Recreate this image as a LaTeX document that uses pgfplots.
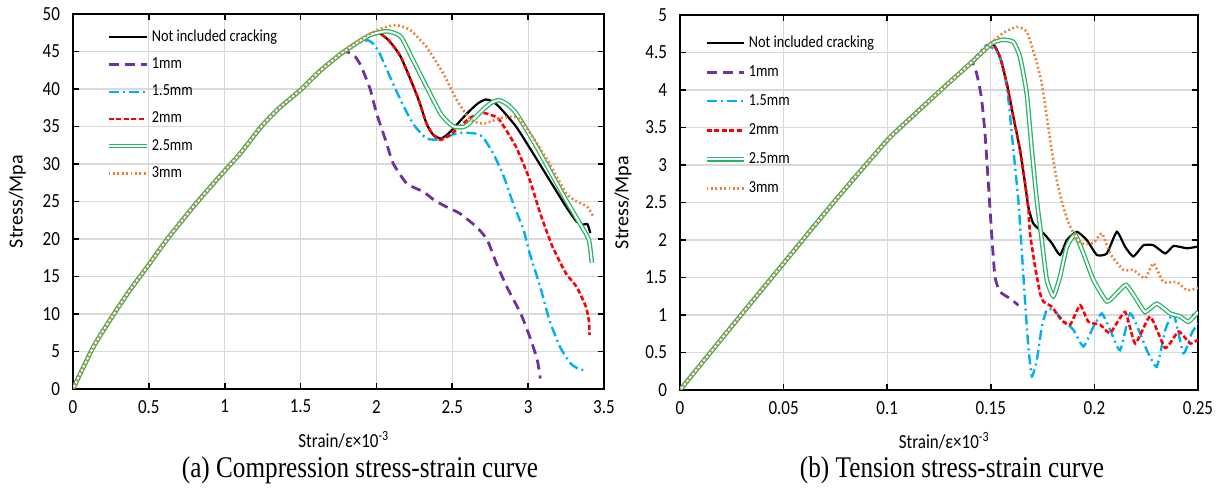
\documentclass[border=0pt]{standalone}
\usepackage{pgfplots}
\pgfplotsset{compat=1.18}
\usepackage{fontspec}
\setmainfont{Carlito}[FakeStretch=0.85]
\newfontfamily\ylabfont{Carlito}
\newfontfamily\capfont{Liberation Serif}[FakeStretch=0.84]
\definecolor{cpurple}{RGB}{112,48,160}
\definecolor{ccyan}{RGB}{0,176,240}
\definecolor{cred}{RGB}{255,0,0}
\definecolor{cgreen}{RGB}{40,180,100}
\definecolor{corange}{RGB}{237,125,49}
\definecolor{cgrid}{RGB}{217,217,217}
\pgfplotsset{
  mystyle/.style={
    scale only axis, height=187.5pt, anchor=south west,
    axis line style={line width=1.4pt},
    tick align=inside, major tick length=3pt,
    tick style={black, line width=0.8pt},
    grid=major, major grid style={cgrid, line width=0.6pt},
    tick label style={font=\fontsize{10}{12}\selectfont},
    /pgf/number format/assume math mode=true,
    yticklabel style={xshift=-3pt},
    xticklabel style={yshift=-2pt},
    label style={font=\fontsize{10}{12}\selectfont},
    legend cell align=left,
    legend image code/.code={\draw[##1] (0pt,0pt) -- (19pt,0pt);},
    legend style={draw=none, fill=none, anchor=north west, inner sep=0pt,
      font=\fontsize{8.4}{9}\selectfont, row sep=5.6pt,
      nodes={inner sep=0pt, text height=6pt, text depth=2pt},
      /tikz/every odd column/.append style={column sep=1.5pt}},
  },
  sblack/.style={black, line width=1.1pt},
  spurple/.style={cpurple, line width=1.4pt, dash pattern=on 5pt off 3pt},
  scyan/.style={ccyan, line width=1.2pt, dash pattern=on 5pt off 2pt on 1pt off 2pt},
  sred/.style={cred, line width=1.3pt, dash pattern=on 2.5pt off 1.3pt},
  sgreen/.style={cgreen, line width=0.65pt, double=white, double distance=1.0pt},
  sorange/.style={corange, line width=1.3pt, dash pattern=on 0.9pt off 1.3pt},
}
\begin{document}
\begin{tikzpicture}
\path[use as bounding box] (0,0) rectangle (615pt,245.5pt);
% ---------------- (a) compression ----------------
\begin{axis}[mystyle, at={(36.5pt,51pt)}, width=265.5pt,
  xmin=0, xmax=3.5, ymin=0, ymax=50,
  xtick={0,0.5,...,3.5}, ytick={0,5,...,50},
  xlabel={Strain/ε×10\textsuperscript{-3}},
  ylabel={\ylabfont Stress/Mpa},
  xlabel style={at={(axis description cs:0.51,0)}, anchor=center, yshift=-25.5pt},
  ylabel style={at={(axis description cs:-0.105,0.5)}, anchor=center, rotate=0},
  legend style={at={(rel axis cs:0.062,0.96)}},
  every axis plot/.append style={smooth, tension=0.35},
]
\addplot[sblack] table {
0 0
0.134 5.6
0.266 9.9
0.376 13.2
0.497 16.5
0.618 19.9
0.793 24.3
0.947 27.9
1.11 31.6
1.233 34.8
1.35 37.3
1.496 39.8
1.628 42.4
1.76 44.6
1.89 46.4
1.96 47.1
2.02 47.4
2.08 46.5
2.16 44.3
2.27 39.0
2.33 35.4
2.37 34.0
2.42 33.4
2.46 33.8
2.51 34.8
2.60 36.8
2.67 38.1
2.72 38.6
2.76 38.4
2.81 37.6
2.92 35.0
3.03 31.5
3.14 27.9
3.25 24.3
3.32 22.3
3.36 21.9
3.39 22.0
3.41 20.8
};
\addlegendentry{Not included cracking}
\addplot[spurple] table {
0 0
0.134 5.6
0.266 9.9
0.376 13.2
0.497 16.5
0.618 19.9
0.793 24.3
0.947 27.9
1.11 31.6
1.233 34.8
1.35 37.3
1.496 39.8
1.628 42.4
1.76 44.6
1.80 45.0
1.86 44.3
1.90 43.0
1.96 39.9
2.00 36.8
2.06 33.2
2.11 30.1
2.20 27.4
2.31 26.3
2.38 25.2
2.46 24.3
2.55 23.4
2.66 21.6
2.73 19.9
2.79 16.8
2.86 13.6
2.95 10.1
3.01 7.0
3.06 3.9
3.08 1.4
};
\addlegendentry{1mm}
\addplot[scyan] table {
0 0
0.134 5.6
0.266 9.9
0.376 13.2
0.497 16.5
0.618 19.9
0.793 24.3
0.947 27.9
1.11 31.6
1.233 34.8
1.35 37.3
1.496 39.8
1.628 42.4
1.76 44.6
1.85 45.9
1.94 46.5
1.98 46.0
2.02 44.8
2.09 41.6
2.16 38.5
2.24 35.4
2.33 33.4
2.42 33.3
2.53 34.1
2.64 34.1
2.70 33.6
2.77 31.4
2.84 28.3
2.90 24.8
2.97 21.2
3.01 18.1
3.08 13.6
3.14 9.2
3.21 5.6
3.28 3.4
3.34 2.6
3.38 2.6
};
\addlegendentry{1.5mm}
\addplot[sred] table {
0 0
0.134 5.6
0.266 9.9
0.376 13.2
0.497 16.5
0.618 19.9
0.793 24.3
0.947 27.9
1.11 31.6
1.233 34.8
1.35 37.3
1.496 39.8
1.628 42.4
1.76 44.6
1.89 46.4
1.96 47.1
2.02 47.4
2.08 46.5
2.16 44.3
2.27 39.0
2.33 35.4
2.37 34.0
2.42 33.2
2.48 33.8
2.55 35.0
2.62 36.2
2.70 36.8
2.76 36.5
2.81 35.9
2.92 32.3
3.01 27.9
3.08 23.4
3.16 19.0
3.25 15.4
3.32 13.6
3.38 11.0
3.40 9.2
3.405 7.2
};
\addlegendentry{2mm}
\addplot[sgreen] table {
0 0
0.134 5.6
0.266 9.9
0.376 13.2
0.497 16.5
0.618 19.9
0.793 24.3
0.947 27.9
1.11 31.6
1.233 34.8
1.35 37.3
1.496 39.8
1.628 42.4
1.76 44.6
1.89 46.4
1.97 47.3
2.07 47.7
2.16 47.0
2.24 43.9
2.33 40.3
2.42 36.8
2.47 35.6
2.51 35.0
2.56 34.9
2.60 35.2
2.70 37.2
2.76 38.2
2.81 38.5
2.86 38.0
2.92 36.8
3.03 33.2
3.14 29.2
3.25 25.2
3.34 22.1
3.40 19.9
3.42 16.8
};
\addlegendentry{2.5mm}
\addplot[sorange] table {
0 0
0.134 5.6
0.266 9.9
0.376 13.2
0.497 16.5
0.618 19.9
0.793 24.3
0.947 27.9
1.11 31.6
1.233 34.8
1.35 37.3
1.496 39.8
1.628 42.4
1.76 44.6
1.89 46.5
1.98 47.6
2.05 48.2
2.13 48.5
2.22 47.9
2.33 45.6
2.44 42.1
2.53 38.5
2.62 35.9
2.70 35.4
2.76 35.7
2.81 36.1
2.92 36.3
2.97 35.3
3.03 33.6
3.14 30.1
3.25 26.1
3.32 25.0
3.39 24.3
3.43 23.0
};
\addlegendentry{3mm}
\end{axis}
% ---------------- (b) tension ----------------
\begin{axis}[mystyle, at={(340pt,50.5pt)}, width=259pt,
  xmin=0, xmax=0.25, ymin=0, ymax=5,
  xtick={0,0.05,0.1,0.15,0.2,0.25}, ytick={0,0.5,...,5},
  scaled x ticks=false, scaled y ticks=false,
  xticklabel style={/pgf/number format/fixed, /pgf/number format/precision=2},
  yticklabel style={/pgf/number format/fixed, /pgf/number format/precision=1},
  xlabel={Strain/ε×10\textsuperscript{-3}},
  ylabel={\ylabfont Stress/Mpa},
  xlabel style={at={(axis description cs:0.51,0)}, anchor=center, yshift=-25.5pt},
  ylabel style={at={(axis description cs:-0.11,0.5)}, anchor=center, rotate=0},
  legend style={at={(rel axis cs:0.046,0.947)}, row sep=6.5pt},
  legend image code/.code={\draw[#1] (0pt,0pt) -- (18.5pt,0pt);},
  every axis plot/.append style={smooth, tension=0.3},
]
\addplot[sblack] table {
0 0
0.025 0.85
0.05 1.69
0.075 2.53
0.1 3.33
0.1126 3.66
0.1287 4.07
0.140 4.35
0.1504 4.62
0.1544 4.44
0.1577 4.09
0.1609 3.64
0.1641 3.2
0.1665 2.76
0.1681 2.44
0.1705 2.22
0.1754 2.09
0.1794 1.96
0.1834 1.80
0.1867 2.0
0.1915 2.11
0.1963 2.0
0.2012 1.80
0.2060 1.82
0.2108 2.11
0.2148 1.91
0.2188 1.78
0.2237 1.93
0.2285 1.93
0.2342 1.82
0.2382 1.92
0.2446 1.89
0.2495 1.91
};
\addlegendentry{Not included cracking}
\addplot[spurple] table {
0 0
0.025 0.85
0.05 1.69
0.075 2.53
0.1 3.33
0.1126 3.66
0.1287 4.07
0.140 4.35
0.1420 4.33
0.1440 4.12
0.1456 3.87
0.1472 3.42
0.1488 2.76
0.1504 2.09
0.1520 1.51
0.1544 1.31
0.1593 1.22
0.1633 1.13
};
\addlegendentry{1mm}
\addplot[scyan] table {
0 0
0.025 0.85
0.05 1.69
0.075 2.53
0.1 3.33
0.1126 3.66
0.1287 4.07
0.140 4.35
0.1480 4.60
0.1530 4.50
0.156 4.31
0.1585 3.87
0.1609 3.2
0.1633 2.53
0.1649 1.87
0.1665 1.2
0.1681 0.58
0.1698 0.18
0.1722 0.4
0.1746 0.84
0.177 1.07
0.18 1.07
0.185 0.93
0.1899 0.8
0.1947 0.58
0.1995 0.84
0.2036 1.02
0.2076 0.8
0.2124 0.53
0.2172 1.02
0.222 0.76
0.2253 0.53
0.2301 0.31
0.2342 0.8
0.2382 1.02
0.243 0.49
0.247 0.76
0.25 0.89
};
\addlegendentry{1.5mm}
\addplot[sred] table {
0 0
0.025 0.85
0.05 1.69
0.075 2.53
0.1 3.33
0.1126 3.66
0.1287 4.07
0.140 4.35
0.1504 4.62
0.1544 4.44
0.1577 4.09
0.1609 3.64
0.1641 3.2
0.1665 2.76
0.1681 2.44
0.1689 2.09
0.1714 1.64
0.1738 1.29
0.1754 1.18
0.1794 1.11
0.1842 0.93
0.1883 0.87
0.1931 1.13
0.1971 0.91
0.2028 0.87
0.2076 0.76
0.2148 1.04
0.2197 0.62
0.2269 0.98
0.2342 0.56
0.2406 0.78
0.2462 0.62
0.2500 0.67
};
\addlegendentry{2mm}
\addplot[sgreen] table {
0 0
0.025 0.85
0.05 1.69
0.075 2.53
0.1 3.33
0.1126 3.66
0.1287 4.07
0.140 4.35
0.1504 4.62
0.156 4.67
0.1609 4.64
0.1641 4.44
0.1673 3.96
0.1698 3.2
0.1722 2.53
0.1746 2.0
0.177 1.47
0.1802 1.25
0.1834 1.51
0.1867 1.91
0.1907 2.07
0.1947 1.82
0.1995 1.47
0.206 1.18
0.2108 1.29
0.2153 1.40
0.2205 1.2
0.2245 1.04
0.2301 1.15
0.2366 1.02
0.2414 0.98
0.2454 0.91
0.2500 1.04
};
\addlegendentry{2.5mm}
\addplot[sorange] table {
0 0
0.025 0.85
0.05 1.69
0.075 2.53
0.1 3.33
0.1126 3.66
0.1287 4.07
0.140 4.35
0.1504 4.63
0.156 4.76
0.1625 4.84
0.1673 4.78
0.1714 4.44
0.1746 4.09
0.177 3.64
0.1794 3.2
0.1818 2.8
0.185 2.44
0.1883 2.18
0.1931 1.96
0.1995 1.96
0.2036 2.09
0.2076 1.82
0.214 1.6
0.2188 1.6
0.2245 1.49
0.2285 1.69
0.2333 1.44
0.2398 1.44
0.2446 1.33
0.2500 1.36
};
\addlegendentry{3mm}
\end{axis}
\node[font=\capfont\fontsize{15}{18}\selectfont] at (180pt,10.5pt) {(a) Compression stress-strain curve};
\node[font=\capfont\fontsize{15}{18}\selectfont] at (476pt,10.5pt) {(b) Tension stress-strain curve};
\end{tikzpicture}
\end{document}
